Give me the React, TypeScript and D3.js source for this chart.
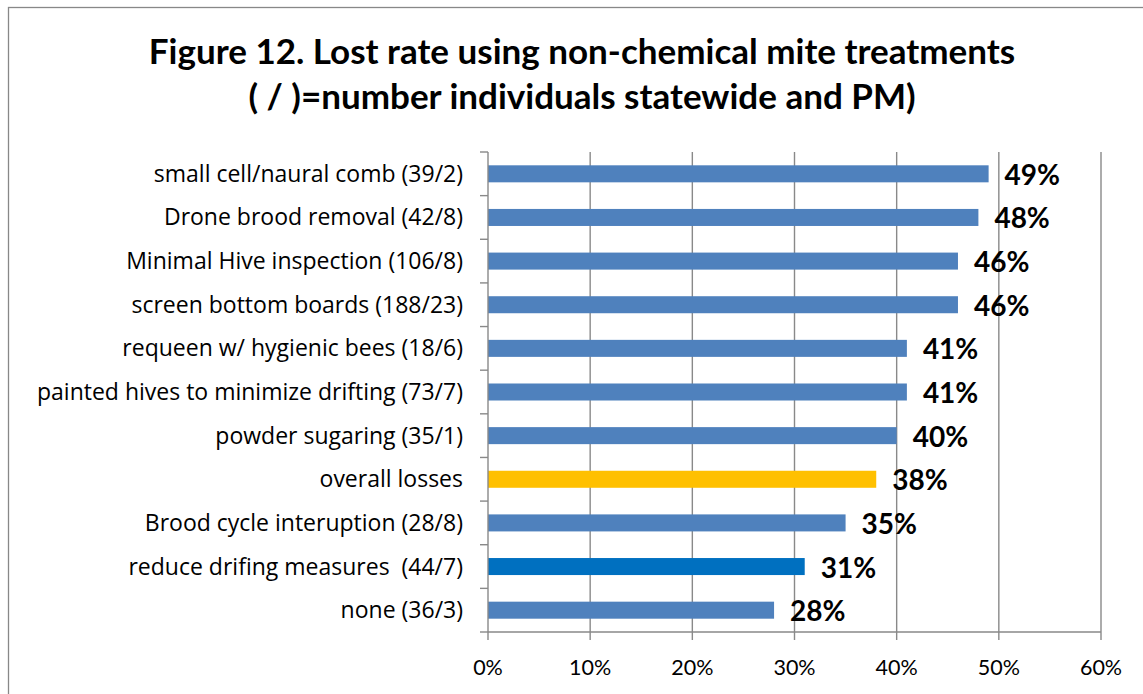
import React from "react";
import * as d3 from "d3";

const categories = [
  "small cell/naural comb (39/2)",
  "Drone brood removal (42/8)",
  "Minimal Hive inspection (106/8)",
  "screen bottom boards (188/23)",
  "requeen w/ hygienic bees (18/6)",
  "painted hives to minimize drifting (73/7)",
  "powder sugaring (35/1)",
  "overall losses",
  "Brood cycle interuption (28/8)",
  "reduce drifing measures  (44/7)",
  "none (36/3)",
];
const values = [0.49, 0.48, 0.46, 0.46, 0.41, 0.41, 0.4, 0.38, 0.35, 0.31, 0.28];
const barColors = [
  "#4F81BD", "#4F81BD", "#4F81BD", "#4F81BD", "#4F81BD", "#4F81BD",
  "#4F81BD", "#FFC000", "#4F81BD", "#0070C0", "#4F81BD",
];
const xTicks = [0, 0.1, 0.2, 0.3, 0.4, 0.5, 0.6];
const titleLines = [
  "Figure 12. Lost rate using non-chemical mite treatments",
  "( / )=number individuals statewide and PM)",
];

const W = 1143;
const H = 694;
const left = 488;
const right = 1101;
const top = 152;
const bottom = 632;
const FONT = "Lato, 'Open Sans', sans-serif";
const LABEL_FONT = "'Open Sans', Lato, sans-serif";

export default function App() {
  const x = d3.scaleLinear().domain([0, 0.6]).range([left, right]);
  const y = d3.scaleBand<string>().domain(categories).range([top, bottom]).padding(0);
  const bw = y.bandwidth();
  const bh = bw * 0.39;
  const fmt = d3.format(".0%");
  const grid = "#898989";

  return (
    <svg
      width={W}
      height={H}
      style={{ position: "absolute", left: 0, top: 0, background: "#fff" }}
      fontFamily={FONT}
    >
      <rect x={8.5} y={7.5} width={W + 10} height={H + 10} fill="#fff" stroke="#888" strokeWidth={1.3} />

      {titleLines.map((t, i) => (
        <text
          key={i}
          x={582}
          y={64 + i * 45}
          textAnchor="middle"
          fontSize={35}
          fontWeight="bold"
          fill="#000"
        >
          {t}
        </text>
      ))}

      {/* vertical gridlines */}
      {xTicks.slice(1).map((t) => (
        <line key={t} x1={x(t)} x2={x(t)} y1={top} y2={bottom} stroke={grid} strokeWidth={1.4} />
      ))}

      {/* bars */}
      {categories.map((c, i) => (
        <rect
          key={c}
          x={x(0)}
          y={(y(c) as number) + (bw - bh) / 2}
          width={x(values[i]) - x(0)}
          height={bh}
          fill={barColors[i]}
        />
      ))}

      {/* y axis */}
      <line x1={left} x2={left} y1={top} y2={bottom} stroke={grid} strokeWidth={1.4} />
      {d3.range(categories.length + 1).map((i) => (
        <line
          key={i}
          x1={left - 8}
          x2={left}
          y1={top + i * bw}
          y2={top + i * bw}
          stroke={grid}
          strokeWidth={1.4}
        />
      ))}
      {categories.map((c) => (
        <text
          key={c}
          x={463}
          y={(y(c) as number) + bw / 2 + 8}
          textAnchor="end"
          fontSize={23}
          fontFamily={LABEL_FONT}
          fill="#000"
          style={{ whiteSpace: "pre" }}
        >
          {c}
        </text>
      ))}

      {/* x axis */}
      <line x1={left} x2={right} y1={bottom} y2={bottom} stroke={grid} strokeWidth={1.4} />
      {xTicks.map((t) => (
        <g key={t}>
          <line x1={x(t)} x2={x(t)} y1={bottom} y2={bottom + 8} stroke={grid} strokeWidth={1.4} />
          <text x={x(t)} y={675} textAnchor="middle" fontSize={21.5} fill="#000">
            {fmt(t)}
          </text>
        </g>
      ))}

      {/* value labels */}
      {categories.map((c, i) => (
        <text
          key={c}
          x={x(values[i]) + 16}
          y={(y(c) as number) + bw / 2 + 11}
          fontSize={28}
          fontWeight="bold"
          fill="#000"
        >
          {fmt(values[i])}
        </text>
      ))}
    </svg>
  );
}
